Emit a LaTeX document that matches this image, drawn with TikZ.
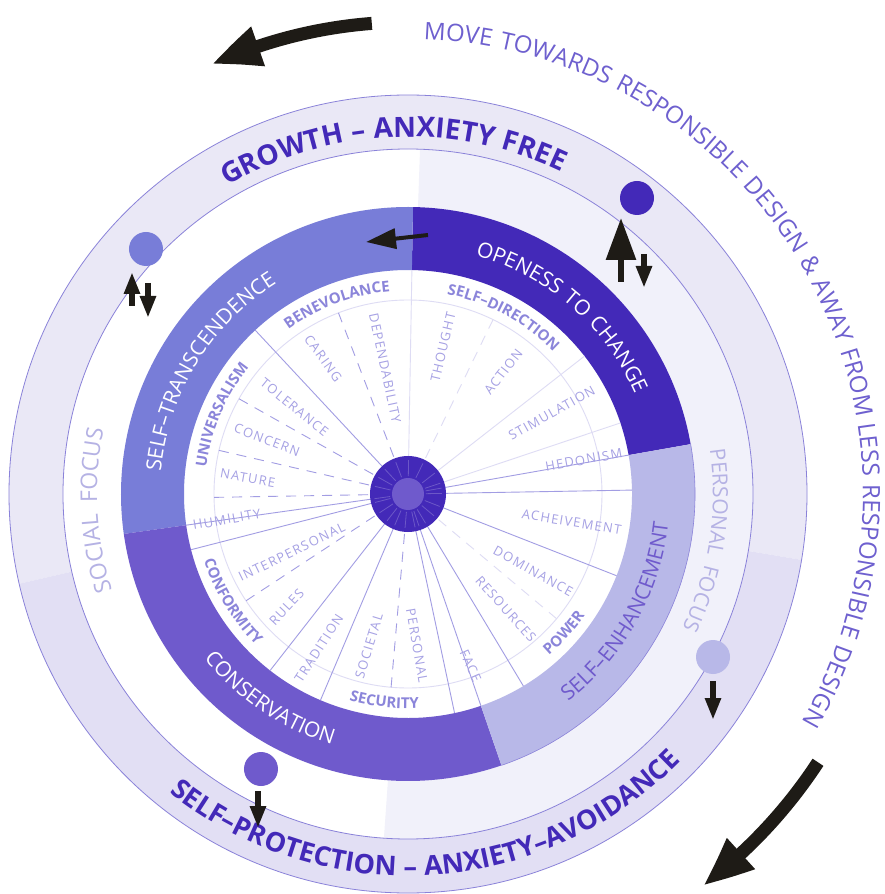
\documentclass[tikz,border=0pt]{standalone}
\usepackage{fontspec}
\setmainfont{Open Sans}
\newfontfamily\subfont{Open Sans}[LetterSpace=10]
\newfontfamily\catfont{Open Sans}[LetterSpace=8]
\newfontfamily\ringfont{Open Sans}[LetterSpace=9]
\newfontfamily\focusfont{Open Sans}[LetterSpace=24]
\newfontfamily\outerfont{Open Sans}[LetterSpace=7]
\newfontfamily\anxietyfont{Open Sans}[LetterSpace=2]
\usetikzlibrary{arrows.meta, bending, decorations.text}

\definecolor{otc}{HTML}{4329B8}
\definecolor{cons}{HTML}{6F5ACC}
\definecolor{stc}{HTML}{787DD8}
\definecolor{senh}{HTML}{B8B8E8}
\definecolor{ringtop}{HTML}{EAE8F6}
\definecolor{ringbot}{HTML}{E2DFF4}
\definecolor{bandlight}{HTML}{F1F1FA}
\definecolor{rimline}{HTML}{8A82D9}
\definecolor{spoke}{HTML}{A29DE3}
\definecolor{spokefaint}{HTML}{DEDCF4}
\definecolor{sublabel}{HTML}{A6A1E4}
\definecolor{catlabel}{HTML}{8B85DA}
\definecolor{focus}{HTML}{B5B2E4}
\definecolor{ink}{HTML}{1E1B16}
\definecolor{movetext}{HTML}{6E60CF}

\newcommand\ringpart[5]{\fill[#1] (#2:#4) arc[start angle=#2, end angle=#3, radius=#4]
    -- (#3:#5) arc[start angle=#3, end angle=#2, radius=#5] -- cycle;}
\newcommand\arclabel[5]{\path[decorate, decoration={text along path, text align=center,
    text={|#4|#5}}] (#2:#1) arc[start angle=#2, end angle=#3, radius=#1];}

\def\ringtext{\ringfont\fontsize{21pt}{21pt}\selectfont}
\def\cattext{\catfont\bfseries\fontsize{15pt}{15pt}\selectfont\color{catlabel}}

\begin{document}
\begin{tikzpicture}[
            x=1pt, y=1pt,
            spokeline/.style={draw=spoke, line width=.9pt},
            faintline/.style={draw=spokefaint, line width=.9pt},
            dashline/.style={spokeline, dash pattern=on 10pt off 8pt},
            faintdash/.style={faintline, dash pattern=on 10pt off 8pt},
            sublabel/.style={text=sublabel, inner sep=0pt, font=\subfont\fontsize{13pt}{13pt}\selectfont},
            dot/.style={circle, minimum size=34pt, inner sep=0pt},
            blackarrow/.style={draw=ink, line width=6pt, -{Triangle[length=22pt, width=15pt]}},
        ]
            \useasboundingbox (-408, -400) rectangle (477, 494);
            \fill[white] (-408, -400) rectangle (477, 494);

            \ringpart{ringtop}{-9.5}{193}{399}{345}
            \ringpart{ringbot}{193}{350.5}{399}{345}
            \ringpart{bandlight}{-94}{88}{345}{287}
            \draw[rimline, line width=.8pt] (0, 0) circle[radius=399];
            \draw[rimline, line width=.8pt] (0, 0) circle[radius=345];

            \ringpart{otc}{10}{89}{287}{224}
            \ringpart{stc}{89}{188}{287}{224}
            \ringpart{cons}{188}{289}{287}{224}
            \ringpart{senh}{-71}{10}{287}{224}
            \draw[rimline, line width=.6pt] (-71:287) arc[start angle=-71, end angle=10, radius=287];

            \draw[faintline] (0, 0) circle[radius=194];
            \foreach \a in {1, -21.4, -59, -71, -78, 247, 232, 194.4, 188, 133, 10}
                \draw[spokeline] (0, 0) -- (\a:224);
            \foreach \a in {89, 38, 18.5}
                \draw[faintline] (0, 0) -- (\a:224);
            \foreach \a in {111, 150.6, 167, 181, 213.4, 265}
                \draw[dashline] (\a:40) -- (\a:194);
            \foreach \a in {64, -40}
                \draw[faintdash] (\a:40) -- (\a:194);

            \fill[otc] (0, 0) circle[radius=38];
            \foreach \a in {1, -21.4, -59, -71, -78, 247, 232, 194.4, 188, 133, 10, 89, 38, 18.5, 111, 150.6, 167, 213.4, 265, 64, -40}
                \draw[white, opacity=.22, line width=.8pt] (\a:18) -- (\a:34);
            \fill[cons] (0, 0) circle[radius=16];

            \node[sublabel, rotate=76.6] (thought) at (76.6:151) {THOUGHT};
            \node[sublabel, rotate=52] (action) at (52:155) {ACTION};
            \node[sublabel, rotate=29.4] (stimulation) at (29.4:165) {STIMULATION};
            \node[sublabel, rotate=10.5] (hedonism) at (11:179) {HEDONISM};
            \node[sublabel, rotate=-9.5] (achievement) at (-9.7:166) {ACHEIVEMENT};
            \node[sublabel, rotate=-29] (dominance) at (-31.6:147) {DOMINANCE};
            \node[sublabel, rotate=-48] (resources) at (-49.6:151) {RESOURCES};
            \node[sublabel, rotate=-66] (face) at (-70:183) {FACE};
            \node[sublabel, rotate=-80] (personal) at (-86.6:152) {PERSONAL};
            \node[sublabel, rotate=73] (societal) at (255.6:157) {SOCIETAL};
            \node[sublabel, rotate=57] (tradition) at (240:178) {TRADITION};
            \node[sublabel, rotate=47] (rules) at (223:166) {RULES};
            \node[sublabel, rotate=26] (interpersonal) at (206.6:130) {INTERPERSONAL};
            \node[sublabel, rotate=10] (humility) at (188:183) {HUMILITY};
            \node[sublabel, rotate=-10] (nature) at (174.3:161) {NATURE};
            \node[sublabel, rotate=-21] (concern) at (159:151) {CONCERN};
            \node[sublabel, rotate=-39] (tolerance) at (142.6:143) {TOLERANCE};
            \node[sublabel, rotate=-54] (caring) at (122:160) {CARING};
            \node[sublabel, rotate=-78] (dependability) at (100.3:128) {DEPENDABILITY};

            \arclabel{203.5}{150.5}{70.5}{\cattext}{BENEVOLANCE}
            \arclabel{203.5}{101.7}{21.7}{\cattext}{SELF–DIRECTION}
            \arclabel{203.5}{197}{117}{\cattext}{UNIVERSALISM}
            \arclabel{214.5}{171.4}{251.4}{\cattext}{CONFORMITY}
            \arclabel{214.5}{223.5}{303.5}{\cattext}{SECURITY}
            \arclabel{214.5}{-81.7}{-1.7}{\cattext}{POWER}

            \arclabel{248}{99}{-1}{\ringtext\color{white}}{OPENESS TO CHANGE}
            \arclabel{248}{198.4}{98.4}{\ringtext\color{white}}{SELF–TRANSCENDENCE}
            \arclabel{262}{186}{286}{\ringtext\color{white}}{CONSERVATION}
            \arclabel{262}{-79.3}{20.7}{\ringtext\color{cons}}{SELF–ENHANCEMENT}

            \arclabel{311}{233}{133}{\focusfont\fontsize{23pt}{23pt}\selectfont\color{focus}}{SOCIAL FOCUS}
            \arclabel{305}{41.2}{-58.8}{\focusfont\fontsize{21pt}{21pt}\selectfont\color{focus}}{PERSONAL FOCUS}

            \arclabel{357}{152.5}{32.5}{\anxietyfont\bfseries\fontsize{28pt}{28pt}\selectfont\color{otc}}{GROWTH – ANXIETY FREE}
            \arclabel{382}{203.5}{343.5}{\anxietyfont\bfseries\fontsize{27pt}{27pt}\selectfont\color{otc}}{SELF–PROTECTION – ANXIETY–AVOIDANCE}
            \arclabel{455}{101}{-43}{\outerfont\fontsize{24pt}{24pt}\selectfont\color{movetext}}{MOVE TOWARDS RESPONSIBLE DESIGN {\&} AWAY FROM LESS RESPONSIBLE DESIGN}

            \node[dot, fill=stc] (dotst) at (-262, 245) {};
            \node[dot, fill=otc] (dototc) at (229, 296) {};
            \node[dot, fill=senh] (dotse) at (305, -163) {};
            \node[dot, fill=cons] (dotcons) at (-147, -275) {};

            \draw[blackarrow] (-276, 188) -- (-276, 222);
            \draw[blackarrow] (-260, 211) -- (-260, 176);
            \draw[blackarrow, -{Triangle[length=42pt, width=29pt]}] (213, 212) -- (213, 276);
            \draw[blackarrow] (236, 240) -- (236, 206);
            \draw[blackarrow] (305, -187) -- (305, -226);
            \draw[blackarrow] (-150, -297) -- (-150, -334);

            \draw[draw=ink, line width=4pt, -{Triangle[length=30pt, width=20pt]}] (20, 259) -- (-42, 252);
            \draw[draw=ink, line width=13pt, -{Triangle[length=50pt, width=38pt, bend]}] (94.4:472) arc[start angle=94.4, end angle=114.5, radius=474];
            \draw[draw=ink, line width=13pt, -{Triangle[length=50pt, width=38pt, bend]}] (-33.2:490) arc[start angle=-33.2, end angle=-53, radius=491];
        \end{tikzpicture}
\end{document}
